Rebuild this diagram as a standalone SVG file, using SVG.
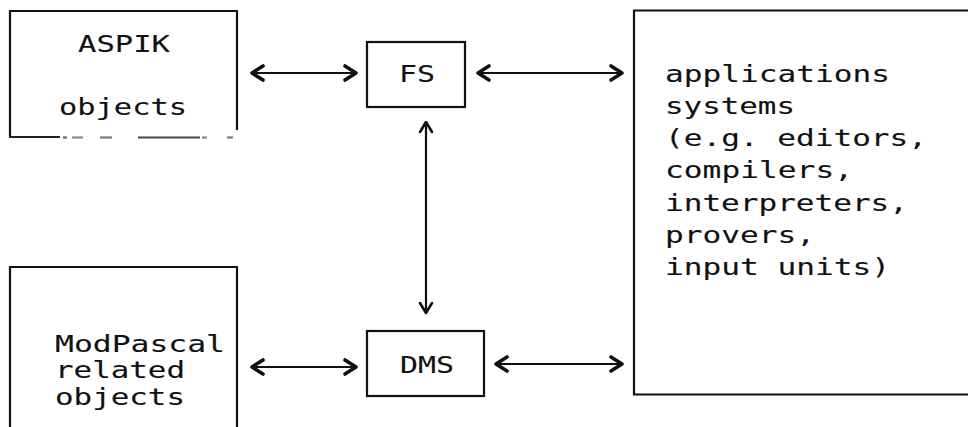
<svg xmlns="http://www.w3.org/2000/svg" width="968" height="427" viewBox="0 0 968 427">
  <style>
    .box { fill: none; stroke: #111; stroke-width: 2.2; }
    .lbl { font-family: "DejaVu Sans Mono", "Liberation Mono", monospace; font-size: 23px; fill: #111; stroke: #111; stroke-width: 0.1; }
    .mid { text-anchor: middle; }
    .link { fill: none; stroke: #111; stroke-width: 2.2; }
    .head { fill: none; stroke: #111; stroke-width: 3.6; stroke-linecap: round; stroke-linejoin: round; }
    .vhead { fill: none; stroke: #111; stroke-width: 2.6; stroke-linecap: round; stroke-linejoin: round; }
    .worn { stroke-width: 2.2; }
  </style>
  <rect width="968" height="427" fill="#fff"/>

  <g id="aspik">
    <path class="box" d="M10,137 V11 H237 V130"/>
    <g class="worn">
      <line x1="9" y1="137" x2="60" y2="137" stroke="#222"/>
      <line x1="63" y1="137.5" x2="67" y2="137.5" stroke="#666"/>
      <line x1="72" y1="137.5" x2="83" y2="137.5" stroke="#888"/>
      <line x1="100" y1="137.5" x2="112" y2="137.5" stroke="#777"/>
      <line x1="138" y1="137.5" x2="200" y2="137.5" stroke="#444"/>
      <line x1="202" y1="137.5" x2="207" y2="137.5" stroke="#888"/>
      <line x1="227" y1="137.5" x2="233" y2="137.5" stroke="#777"/>
    </g>
    <text class="lbl mid" x="124" y="52" textLength="92" lengthAdjust="spacingAndGlyphs">ASPIK</text>
    <text class="lbl mid" x="123" y="115" textLength="128" lengthAdjust="spacingAndGlyphs">objects</text>
  </g>

  <g id="fs">
    <rect class="box" x="367" y="42" width="98" height="65"/>
    <text class="lbl mid" x="417" y="82" textLength="36" lengthAdjust="spacingAndGlyphs">FS</text>
  </g>

  <g id="dms">
    <rect class="box" x="367" y="331" width="117" height="65"/>
    <text class="lbl mid" x="427" y="373" textLength="54" lengthAdjust="spacingAndGlyphs">DMS</text>
  </g>

  <g id="modpascal">
    <path class="box" d="M10,428 V267 H237 V428"/>
    <text class="lbl" x="55" y="352" textLength="170" lengthAdjust="spacingAndGlyphs">ModPascal</text>
    <text class="lbl" x="55" y="378" textLength="130" lengthAdjust="spacingAndGlyphs">related</text>
    <text class="lbl" x="55" y="405" textLength="130" lengthAdjust="spacingAndGlyphs">objects</text>
  </g>

  <g id="applications">
    <path class="box" d="M970,10.5 H634 V394.5 H970"/>
    <text class="lbl" x="665" y="82" textLength="225" lengthAdjust="spacingAndGlyphs">applications</text>
    <text class="lbl" x="665" y="114" textLength="130" lengthAdjust="spacingAndGlyphs">systems</text>
    <text class="lbl" x="665" y="146" textLength="262" lengthAdjust="spacingAndGlyphs">(e.g. editors,</text>
    <text class="lbl" x="665" y="178" textLength="188" lengthAdjust="spacingAndGlyphs">compilers,</text>
    <text class="lbl" x="665" y="211" textLength="243" lengthAdjust="spacingAndGlyphs">interpreters,</text>
    <text class="lbl" x="665" y="243" textLength="150" lengthAdjust="spacingAndGlyphs">provers,</text>
    <text class="lbl" x="665" y="275" textLength="225" lengthAdjust="spacingAndGlyphs">input units)</text>
  </g>

  <g id="connectors">
    <!-- ASPIK <-> FS -->
    <line class="link" x1="254" y1="73" x2="354" y2="73"/>
    <path class="head" d="M263,66 L252,73 L263,80"/>
    <path class="head" d="M345,66 L356,73 L345,80"/>
    <!-- FS <-> applications -->
    <line class="link" x1="480" y1="73" x2="620" y2="73"/>
    <path class="head" d="M489,66 L478,73 L489,80"/>
    <path class="head" d="M611,66 L622,73 L611,80"/>
    <!-- FS <-> DMS -->
    <line class="link" x1="426" y1="124" x2="426" y2="311"/>
    <path class="vhead" d="M420,132 L426,122 L432,132"/>
    <path class="vhead" d="M420,303 L426,313 L432,303"/>
    <!-- ModPascal <-> DMS -->
    <line class="link" x1="254" y1="367" x2="354" y2="367"/>
    <path class="head" d="M263,360 L252,367 L263,374"/>
    <path class="head" d="M345,360 L356,367 L345,374"/>
    <!-- DMS <-> applications -->
    <line class="link" x1="498" y1="364" x2="620" y2="364"/>
    <path class="head" d="M507,357 L496,364 L507,371"/>
    <path class="head" d="M611,357 L622,364 L611,371"/>
  </g>
</svg>
